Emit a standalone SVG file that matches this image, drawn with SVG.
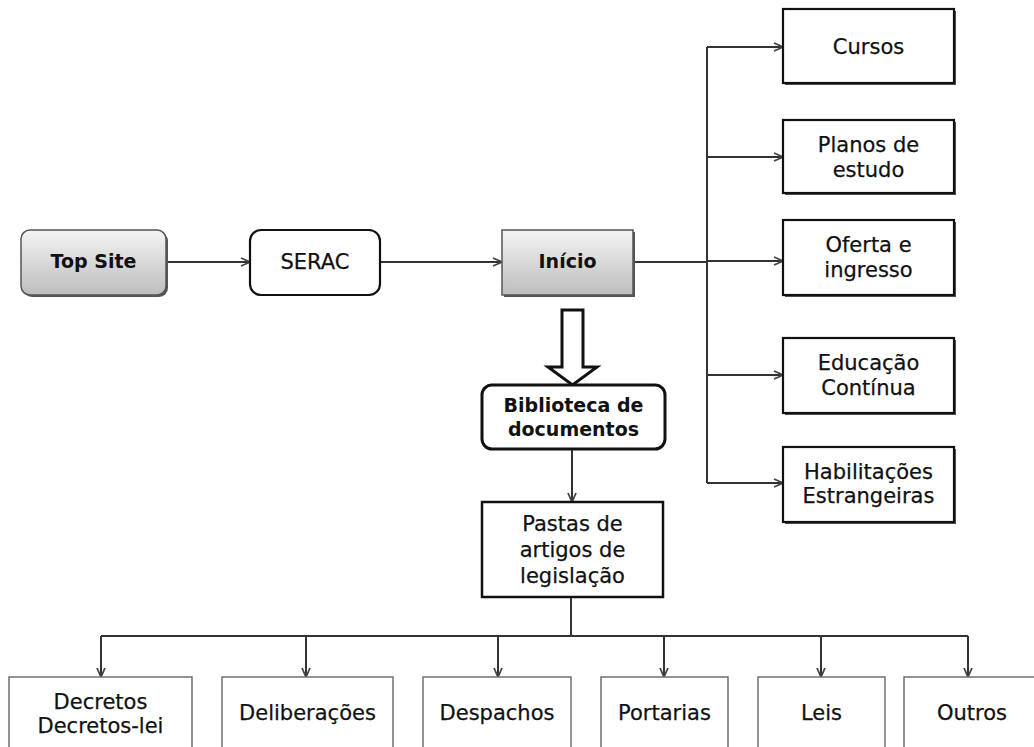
<svg xmlns="http://www.w3.org/2000/svg" width="1034" height="747" viewBox="0 0 1034 747">
  <style>
    text { font-family: "DejaVu Sans", Verdana, sans-serif; font-size: 21px; fill: #111; stroke: #111; stroke-width: 0.25; text-anchor: middle; }
    .b { font-weight: bold; font-size: 19px; stroke-width: 0; }
    .conn { fill: none; stroke: #333; stroke-width: 2; }
    .box { fill: #fff; stroke: #111; stroke-width: 2.2; }
    .leaf { fill: #fff; stroke: #666; stroke-width: 1.4; }
    .shadow { fill: #555; }
  </style>
  <defs>
    <linearGradient id="grey" x1="0" y1="0" x2="0" y2="1">
      <stop offset="0" stop-color="#f4f4f4"/>
      <stop offset="1" stop-color="#bdbdbd"/>
    </linearGradient>
    <marker id="arr" viewBox="0 0 10 10" refX="10" refY="5" markerWidth="10" markerHeight="10" markerUnits="userSpaceOnUse" orient="auto">
      <path d="M1,1 L10,5 L1,9" fill="none" stroke="#444" stroke-width="1.8"/>
    </marker>
  </defs>

  <!-- connectors -->
  <g id="connectors">
    <path class="conn" d="M166,262 H250" marker-end="url(#arr)"/>
    <path class="conn" d="M380,262 H502" marker-end="url(#arr)"/>
    <path class="conn" d="M633,262 H707"/>
    <path class="conn" d="M707,47 V483"/>
    <path class="conn" d="M707,47 H783" marker-end="url(#arr)"/>
    <path class="conn" d="M707,157 H783" marker-end="url(#arr)"/>
    <path class="conn" d="M707,261 H783" marker-end="url(#arr)"/>
    <path class="conn" d="M707,375 H783" marker-end="url(#arr)"/>
    <path class="conn" d="M707,483 H783" marker-end="url(#arr)"/>
    <!-- hollow block arrow -->
    <polygon points="562,310 583,310 583,367 597,367 572.5,385 548,367 562,367" fill="#fff" stroke="#111" stroke-width="3" stroke-linejoin="miter"/>
    <path class="conn" d="M572,449 V502" marker-end="url(#arr)"/>
    <path class="conn" d="M571,597 V636"/>
    <path class="conn" d="M101,636 H968"/>
    <path class="conn" d="M101,636 V677" marker-end="url(#arr)"/>
    <path class="conn" d="M306,636 V677" marker-end="url(#arr)"/>
    <path class="conn" d="M498,636 V677" marker-end="url(#arr)"/>
    <path class="conn" d="M664,636 V677" marker-end="url(#arr)"/>
    <path class="conn" d="M821,636 V677" marker-end="url(#arr)"/>
    <path class="conn" d="M968,636 V677" marker-end="url(#arr)"/>
  </g>

  <g id="top-site">
    <rect x="23" y="232" width="145" height="65" rx="9" class="shadow"/>
    <rect x="21" y="230" width="145" height="65" rx="9" fill="url(#grey)" stroke="#555" stroke-width="1.5"/>
    <text x="93.5" y="268" class="b">Top Site</text>
  </g>

  <g id="serac">
    <rect x="250" y="230" width="130" height="65" rx="11" class="box"/>
    <text x="315" y="269">SERAC</text>
  </g>

  <g id="inicio">
    <rect x="504" y="232" width="131" height="65" class="shadow"/>
    <rect x="502" y="230" width="131" height="65" fill="url(#grey)" stroke="#555" stroke-width="1.5"/>
    <text x="567.5" y="268" class="b">Início</text>
  </g>

  <g id="biblioteca">
    <rect x="482" y="385" width="183" height="64" rx="10" fill="#fff" stroke="#111" stroke-width="3"/>
    <text x="573.5" y="412" class="b">Biblioteca de</text>
    <text x="573.5" y="436" class="b">documentos</text>
  </g>

  <g id="pastas">
    <rect x="482" y="502" width="181" height="95" fill="#fff" stroke="#111" stroke-width="2.5"/>
    <text x="572.5" y="531">Pastas de</text>
    <text x="572.5" y="557">artigos de</text>
    <text x="572.5" y="583">legislação</text>
  </g>

  <g id="cursos">
    <rect x="785" y="11" width="171" height="74" class="shadow"/>
    <rect x="783" y="9" width="171" height="74" class="box"/>
    <text x="868.5" y="54">Cursos</text>
  </g>

  <g id="planos">
    <rect x="785" y="122" width="171" height="73" class="shadow"/>
    <rect x="783" y="120" width="171" height="73" class="box"/>
    <text x="868.5" y="152">Planos de</text>
    <text x="868.5" y="177">estudo</text>
  </g>

  <g id="oferta">
    <rect x="785" y="222" width="171" height="75" class="shadow"/>
    <rect x="783" y="220" width="171" height="75" class="box"/>
    <text x="868.5" y="252">Oferta e</text>
    <text x="868.5" y="277">ingresso</text>
  </g>

  <g id="educacao">
    <rect x="785" y="340" width="171" height="75" class="shadow"/>
    <rect x="783" y="338" width="171" height="75" class="box"/>
    <text x="868.5" y="370">Educação</text>
    <text x="868.5" y="395">Contínua</text>
  </g>

  <g id="habilitacoes">
    <rect x="785" y="449" width="171" height="75" class="shadow"/>
    <rect x="783" y="447" width="171" height="75" class="box"/>
    <text x="868.5" y="479">Habilitações</text>
    <text x="868.5" y="503">Estrangeiras</text>
  </g>

  <g id="decretos">
    <rect x="9" y="677" width="183" height="90" class="leaf"/>
    <text x="100.5" y="709">Decretos</text>
    <text x="100.5" y="733">Decretos-lei</text>
  </g>

  <g id="deliberacoes">
    <rect x="222" y="677" width="171" height="90" class="leaf"/>
    <text x="307.5" y="720">Deliberações</text>
  </g>

  <g id="despachos">
    <rect x="423" y="677" width="148" height="90" class="leaf"/>
    <text x="497" y="720">Despachos</text>
  </g>

  <g id="portarias">
    <rect x="601" y="677" width="127" height="90" class="leaf"/>
    <text x="664.5" y="720">Portarias</text>
  </g>

  <g id="leis">
    <rect x="758" y="677" width="127" height="90" class="leaf"/>
    <text x="821.5" y="720">Leis</text>
  </g>

  <g id="outros">
    <rect x="904" y="677" width="136" height="90" class="leaf"/>
    <text x="972" y="720">Outros</text>
  </g>
</svg>
